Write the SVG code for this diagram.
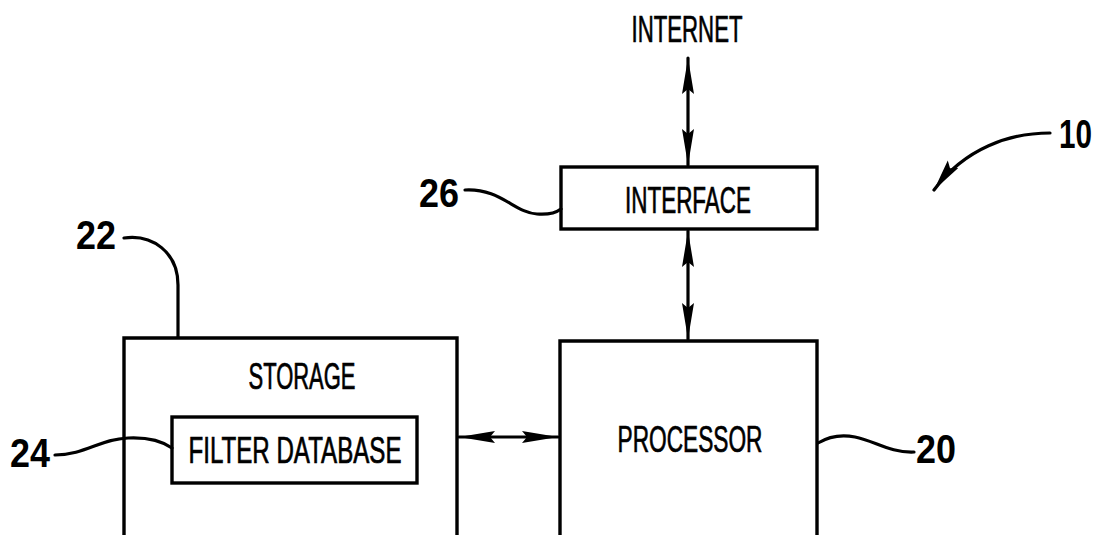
<svg xmlns="http://www.w3.org/2000/svg" width="1104" height="535" viewBox="0 0 1104 535">
<style>
.box{fill:none;stroke:#000;stroke-width:3.4;stroke-linejoin:miter}
.ln{fill:none;stroke:#000;stroke-width:3.2;stroke-linecap:round}
.lbl{font-family:"Liberation Sans",Arial,sans-serif;font-size:36px;fill:#000;stroke:#000;stroke-width:0.7;text-anchor:middle}
.num{font-family:"Liberation Sans",Arial,sans-serif;font-size:40px;font-weight:bold;fill:#000}
</style>
<defs>
<marker id="ah" markerUnits="userSpaceOnUse" markerWidth="40" markerHeight="16" refX="36" refY="6.5" orient="auto-start-reverse">
<path d="M0,0.5 L36,6.5 L0,12.5 L5,6.5 z" fill="#000"/>
</marker>
<marker id="ah2" markerUnits="userSpaceOnUse" markerWidth="36" markerHeight="16" refX="32" refY="6.5" orient="auto">
<path d="M0,0 L32,6.5 L0,13 L5,6.5 z" fill="#000"/>
</marker>
</defs>
<rect width="1104" height="535" fill="#fff"/>
<g id="connectors">
<path class="ln" d="M688,58 V165" marker-start="url(#ah)" marker-end="url(#ah)"/>
<path class="ln" d="M688,231 V339" marker-start="url(#ah)" marker-end="url(#ah)"/>
<path class="ln" d="M459,437 H558" marker-start="url(#ah)" marker-end="url(#ah)"/>
</g>
<g id="internet">
<text class="lbl" x="687" y="42" textLength="111" lengthAdjust="spacingAndGlyphs">INTERNET</text>
</g>
<g id="interface">
<rect class="box" x="561" y="167" width="256" height="62"/>
<text class="lbl" x="688" y="213" textLength="126" lengthAdjust="spacingAndGlyphs">INTERFACE</text>
</g>
<g id="storage">
<path class="box" d="M124,545 V338 H457 V545"/>
<text class="lbl" x="302" y="389" textLength="107" lengthAdjust="spacingAndGlyphs">STORAGE</text>
</g>
<g id="filter-database">
<rect class="box" x="172" y="417" width="245" height="66"/>
<text class="lbl" x="295" y="463" textLength="213" lengthAdjust="spacingAndGlyphs">FILTER DATABASE</text>
</g>
<g id="processor">
<path class="box" d="M560,545 V341 H817 V545"/>
<text class="lbl" x="690" y="452" textLength="145" lengthAdjust="spacingAndGlyphs">PROCESSOR</text>
</g>
<g id="ref-10">
<path class="ln" d="M1050,133 C1010,133 965,148 934,190" marker-end="url(#ah2)"/>
<text class="num" x="1059" y="148" textLength="33" lengthAdjust="spacingAndGlyphs">10</text>
</g>
<g id="ref-20">
<path class="ln" d="M818,443 C828,437 840,434 855,437 C875,441 890,453 914,452"/>
<text class="num" x="916" y="463" textLength="40" lengthAdjust="spacingAndGlyphs">20</text>
</g>
<g id="ref-22">
<path class="ln" d="M124,238 C152,234 178,252 178,285 L178,337"/>
<text class="num" x="76" y="249" textLength="40" lengthAdjust="spacingAndGlyphs">22</text>
</g>
<g id="ref-24">
<path class="ln" d="M55,455 C85,455 100,439 128,438 C150,437 162,441 172,448"/>
<text class="num" x="10" y="467" textLength="40" lengthAdjust="spacingAndGlyphs">24</text>
</g>
<g id="ref-26">
<path class="ln" d="M465,190 C500,188 515,213 537,214 C550,215 557,212 561,209"/>
<text class="num" x="419" y="207" textLength="40" lengthAdjust="spacingAndGlyphs">26</text>
</g>
</svg>
